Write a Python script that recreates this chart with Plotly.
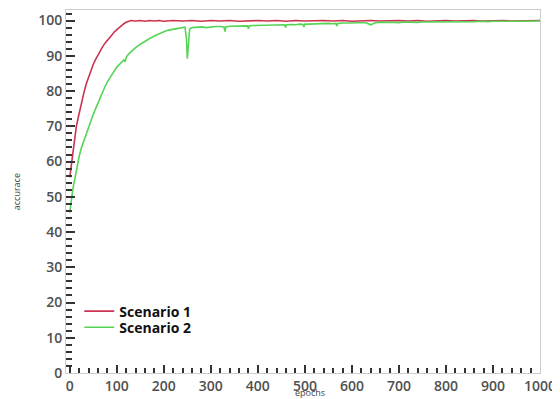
import plotly.graph_objects as go

s1_epochs = [0, 2, 4, 6, 8, 10, 14, 18, 22, 26, 30, 35, 40, 45, 50, 55, 60, 65, 70, 75,
             80, 85, 90, 95, 100, 105, 110, 115, 120, 125, 130, 140, 150, 160, 170, 180,
             190, 200, 220, 240, 260, 280, 300, 320, 340, 360, 380, 400, 420, 440, 460,
             480, 500, 520, 540, 560, 580, 600, 620, 640, 660, 680, 700, 720, 740, 760,
             780, 800, 820, 840, 860, 880, 900, 920, 940, 960, 980, 1000]
s1_acc = [55.5, 57.5, 60.0, 62.5, 64.5, 66.5, 70.0, 72.5, 75.0, 77.3, 79.5, 82.0, 84.0, 86.0,
          87.6, 89.0, 90.3, 91.5, 92.6, 93.6, 94.5, 95.3, 96.0, 96.8, 97.4, 98.0, 98.6, 99.1,
          99.5, 99.8, 100.0, 99.9, 100.0, 99.8, 100.0, 99.9, 100.0, 99.8, 100.0, 99.9, 100.0,
          99.8, 100.0, 99.9, 100.0, 99.8, 100.0, 100.0, 99.9, 100.0, 99.8, 100.0, 99.9, 100.0,
          100.0, 99.9, 100.0, 99.8, 100.0, 100.0, 99.9, 100.0, 100.0, 99.9, 100.0, 99.8, 100.0,
          100.0, 99.9, 100.0, 100.0, 99.9, 100.0, 100.0, 99.9, 100.0, 100.0, 100.0]

s2_epochs = [0, 2, 4, 7, 10, 14, 17, 20, 25, 30, 35, 40, 45, 50, 55, 60, 65, 70, 75, 80,
             85, 90, 95, 100, 105, 110, 115, 118, 120, 125, 130, 140, 150, 160, 170, 180,
             190, 200, 210, 220, 230, 240, 245, 248, 250, 252, 255, 260, 270, 280, 290, 300,
             310, 320, 328, 330, 332, 340, 350, 360, 370, 378, 380, 382, 390, 400, 410, 420,
             430, 440, 450, 457, 459, 461, 470, 480, 490, 496, 498, 500, 510, 520, 530, 540,
             550, 560, 566, 568, 570, 580, 590, 600, 610, 620, 630, 640, 650, 660, 670, 680,
             690, 700, 710, 720, 730, 740, 750, 760, 770, 780, 790, 800, 810, 820, 830, 840,
             850, 860, 870, 880, 890, 900, 910, 920, 930, 940, 950, 960, 970, 980, 990, 1000]
s2_acc = [45.5, 48.0, 50.0, 52.5, 54.5, 57.5, 60.0, 61.5, 64.0, 66.0, 68.0, 70.0, 71.8,
          73.4, 75.0, 76.6, 78.3, 80.0, 81.3, 82.6, 83.8, 84.8, 85.8, 86.8, 87.5, 88.3,
          88.8, 88.3, 89.6, 90.5, 91.2, 92.3, 93.3, 94.2, 94.9, 95.6, 96.3, 96.8, 97.3,
          97.6, 97.9, 98.0, 98.1, 95.0, 89.2, 94.0, 97.6, 98.0, 98.1, 98.2, 98.0, 98.2,
          98.3, 98.3, 98.2, 96.9, 98.2, 98.4, 98.4, 98.5, 98.4, 98.5, 97.7, 98.5, 98.6,
          98.6, 98.7, 98.6, 98.8, 98.7, 98.8, 98.8, 98.0, 98.8, 98.9, 98.8, 99.0, 98.9,
          98.2, 99.0, 99.0, 99.1, 99.0, 99.1, 99.2, 99.1, 99.2, 98.5, 99.2, 99.3, 99.2,
          99.3, 99.4, 99.3, 99.4, 98.8, 99.4, 99.5, 99.4, 99.5, 99.5, 99.4, 99.6, 99.5,
          99.6, 99.5, 99.6, 99.6, 99.5, 99.7, 99.6, 99.6, 99.7, 99.6, 99.7, 99.7, 99.6,
          99.7, 99.8, 99.7, 99.7, 99.8, 99.7, 99.8, 99.8, 99.7, 99.8, 99.8, 99.8, 99.9,
          99.8, 99.9]

x_tick_vals = [0, 100, 200, 300, 400, 500, 600, 700, 800, 900, 1000]
y_tick_vals = [0, 10, 20, 30, 40, 50, 60, 70, 80, 90, 100]
x_title = "epochs"
y_title = "accurace"

fig = go.Figure()
fig.add_trace(go.Scatter(x=s1_epochs, y=s1_acc, mode="lines", name="Scenario 1",
                         line=dict(color="#cc3350", width=1.6), legend="legend"))
fig.add_trace(go.Scatter(x=s2_epochs, y=s2_acc, mode="lines", name="Scenario 2",
                         line=dict(color="#55d455", width=1.6), legend="legend2"))

tickfont = dict(family="Open Sans", size=14, color="#505050", weight=600)
legfont = dict(family="Open Sans", size=14, color="#111111", weight=700)

# page body has an 8px default margin, so the figure is 8px smaller and margins shifted
fig.update_layout(
    width=552, height=391,
    margin=dict(l=58, r=20, t=2, b=26, autoexpand=False),
    paper_bgcolor="white", plot_bgcolor="white",
    showlegend=True,
    legend=dict(x=0.028, y=0.2135, xanchor="left", yanchor="top", font=legfont,
                bgcolor="rgba(0,0,0,0)", itemwidth=30),
    legend2=dict(x=0.028, y=0.169, xanchor="left", yanchor="top", font=legfont,
                 bgcolor="rgba(0,0,0,0)", itemwidth=30),
    xaxis=dict(range=[-8, 1000], tickvals=x_tick_vals, ticks="inside", ticklen=8,
               tickwidth=2, tickcolor="#333333", showgrid=False, zeroline=False,
               showline=True, linecolor="#cccccc", linewidth=1, mirror=True,
               tickfont=tickfont, automargin=False,
               minor=dict(dtick=20, ticks="inside", ticklen=5, tickwidth=2,
                          tickcolor="#333333", showgrid=False)),
    yaxis=dict(range=[0, 103], tickvals=y_tick_vals, ticks="inside", ticklen=9,
               tickwidth=2, tickcolor="#333333", showgrid=False, zeroline=False,
               showline=True, linecolor="#cccccc", linewidth=1, mirror=True,
               tickfont=tickfont, automargin=False,
               minor=dict(dtick=2, ticks="inside", ticklen=6, tickwidth=2,
                          tickcolor="#333333", showgrid=False)),
    annotations=[
        dict(text=x_title, xref="paper", yref="paper", x=0.515, y=-0.053,
             xanchor="center", yanchor="middle", showarrow=False,
             font=dict(family="Open Sans", size=9, color="#444444")),
        dict(text=y_title, xref="paper", yref="paper", x=-0.104, y=0.5,
             xanchor="center", yanchor="middle", showarrow=False, textangle=-90,
             font=dict(family="Open Sans", size=9, color="#444444")),
    ],
)

fig.write_html("out.html")
